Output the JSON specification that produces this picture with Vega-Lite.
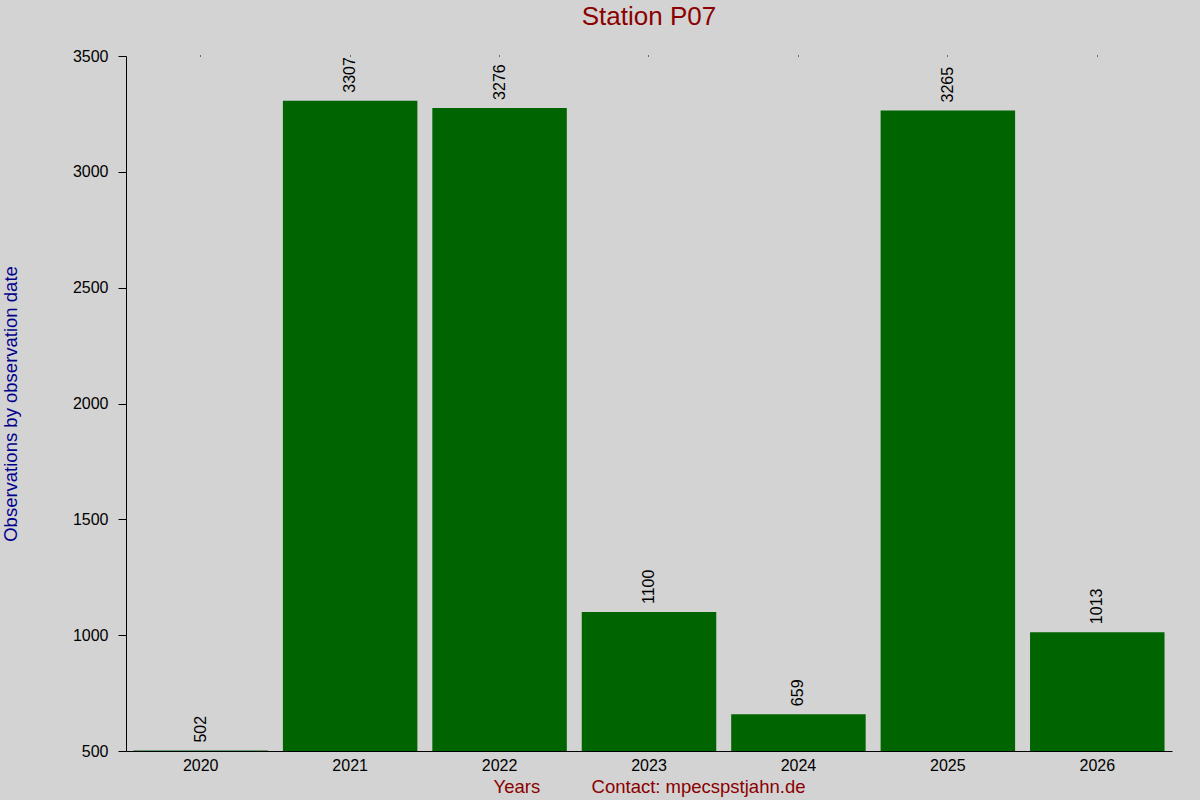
{
  "$schema": "https://vega.github.io/schema/vega-lite/v6.json",
  "autosize": "none",
  "width": 1046,
  "height": 695,
  "padding": {"left": 126, "top": 56, "right": 28, "bottom": 49},
  "background": "#d3d3d3",
  "config": {
    "view": {"stroke": null},
    "font": "Liberation Sans",
    "axis": {
      "labelFont": "Liberation Sans",
      "titleFont": "Liberation Sans",
      "labelFontSize": 16,
      "labelColor": "#000000",
      "domainColor": "#000000",
      "tickColor": "#000000",
      "grid": false,
      "titleFontWeight": "normal",
      "titleFontSize": 18.5
    }
  },
  "title": {
    "text": "Station P07",
    "fontSize": 26,
    "fontWeight": "normal",
    "color": "#8b0000",
    "font": "Liberation Sans",
    "offset": 18
  },
  "data": {
    "values": [
      {"year": "2020", "count": 502},
      {"year": "2021", "count": 3307},
      {"year": "2022", "count": 3276},
      {"year": "2023", "count": 1100},
      {"year": "2024", "count": 659},
      {"year": "2025", "count": 3265},
      {"year": "2026", "count": 1013}
    ]
  },
  "encoding": {
    "y": {
      "field": "count",
      "type": "quantitative",
      "scale": {"domain": [500, 3500], "zero": false, "clamp": true},
      "axis": {
        "title": "Observations by observation date",
        "titleColor": "#00008b",
        "titlePadding": 52,
        "values": [500, 1000, 1500, 2000, 2500, 3000, 3500],
        "format": "d",
        "tickSize": 8,
        "labelPadding": 10
      }
    }
  },
  "resolve": {"axis": {"x": "independent"}},
  "layer": [
    {
      "mark": {"type": "bar", "color": "#006400", "width": {"band": 0.9}},
      "encoding": {
        "x": {
          "field": "year",
          "type": "ordinal",
          "scale": {"paddingInner": 0, "paddingOuter": 0},
          "axis": {
            "title": "Years\u00a0\u00a0\u00a0\u00a0\u00a0\u00a0\u00a0\u00a0\u00a0\u00a0Contact: mpecspstjahn.de",
            "titleColor": "#8b0000",
            "titlePadding": 4,
            "labelAngle": 0,
            "labelPadding": 6,
            "ticks": false
          }
        }
      }
    },
    {
      "mark": {
        "type": "text",
        "angle": 270,
        "align": "left",
        "baseline": "middle",
        "dx": 8,
        "fontSize": 16,
        "color": "#000000"
      },
      "encoding": {
        "x": {
          "field": "year",
          "type": "ordinal",
          "axis": {
            "orient": "top",
            "title": null,
            "labels": false,
            "domain": false,
            "tickSize": 1
          }
        },
        "text": {"field": "count", "type": "quantitative"}
      }
    }
  ]
}
